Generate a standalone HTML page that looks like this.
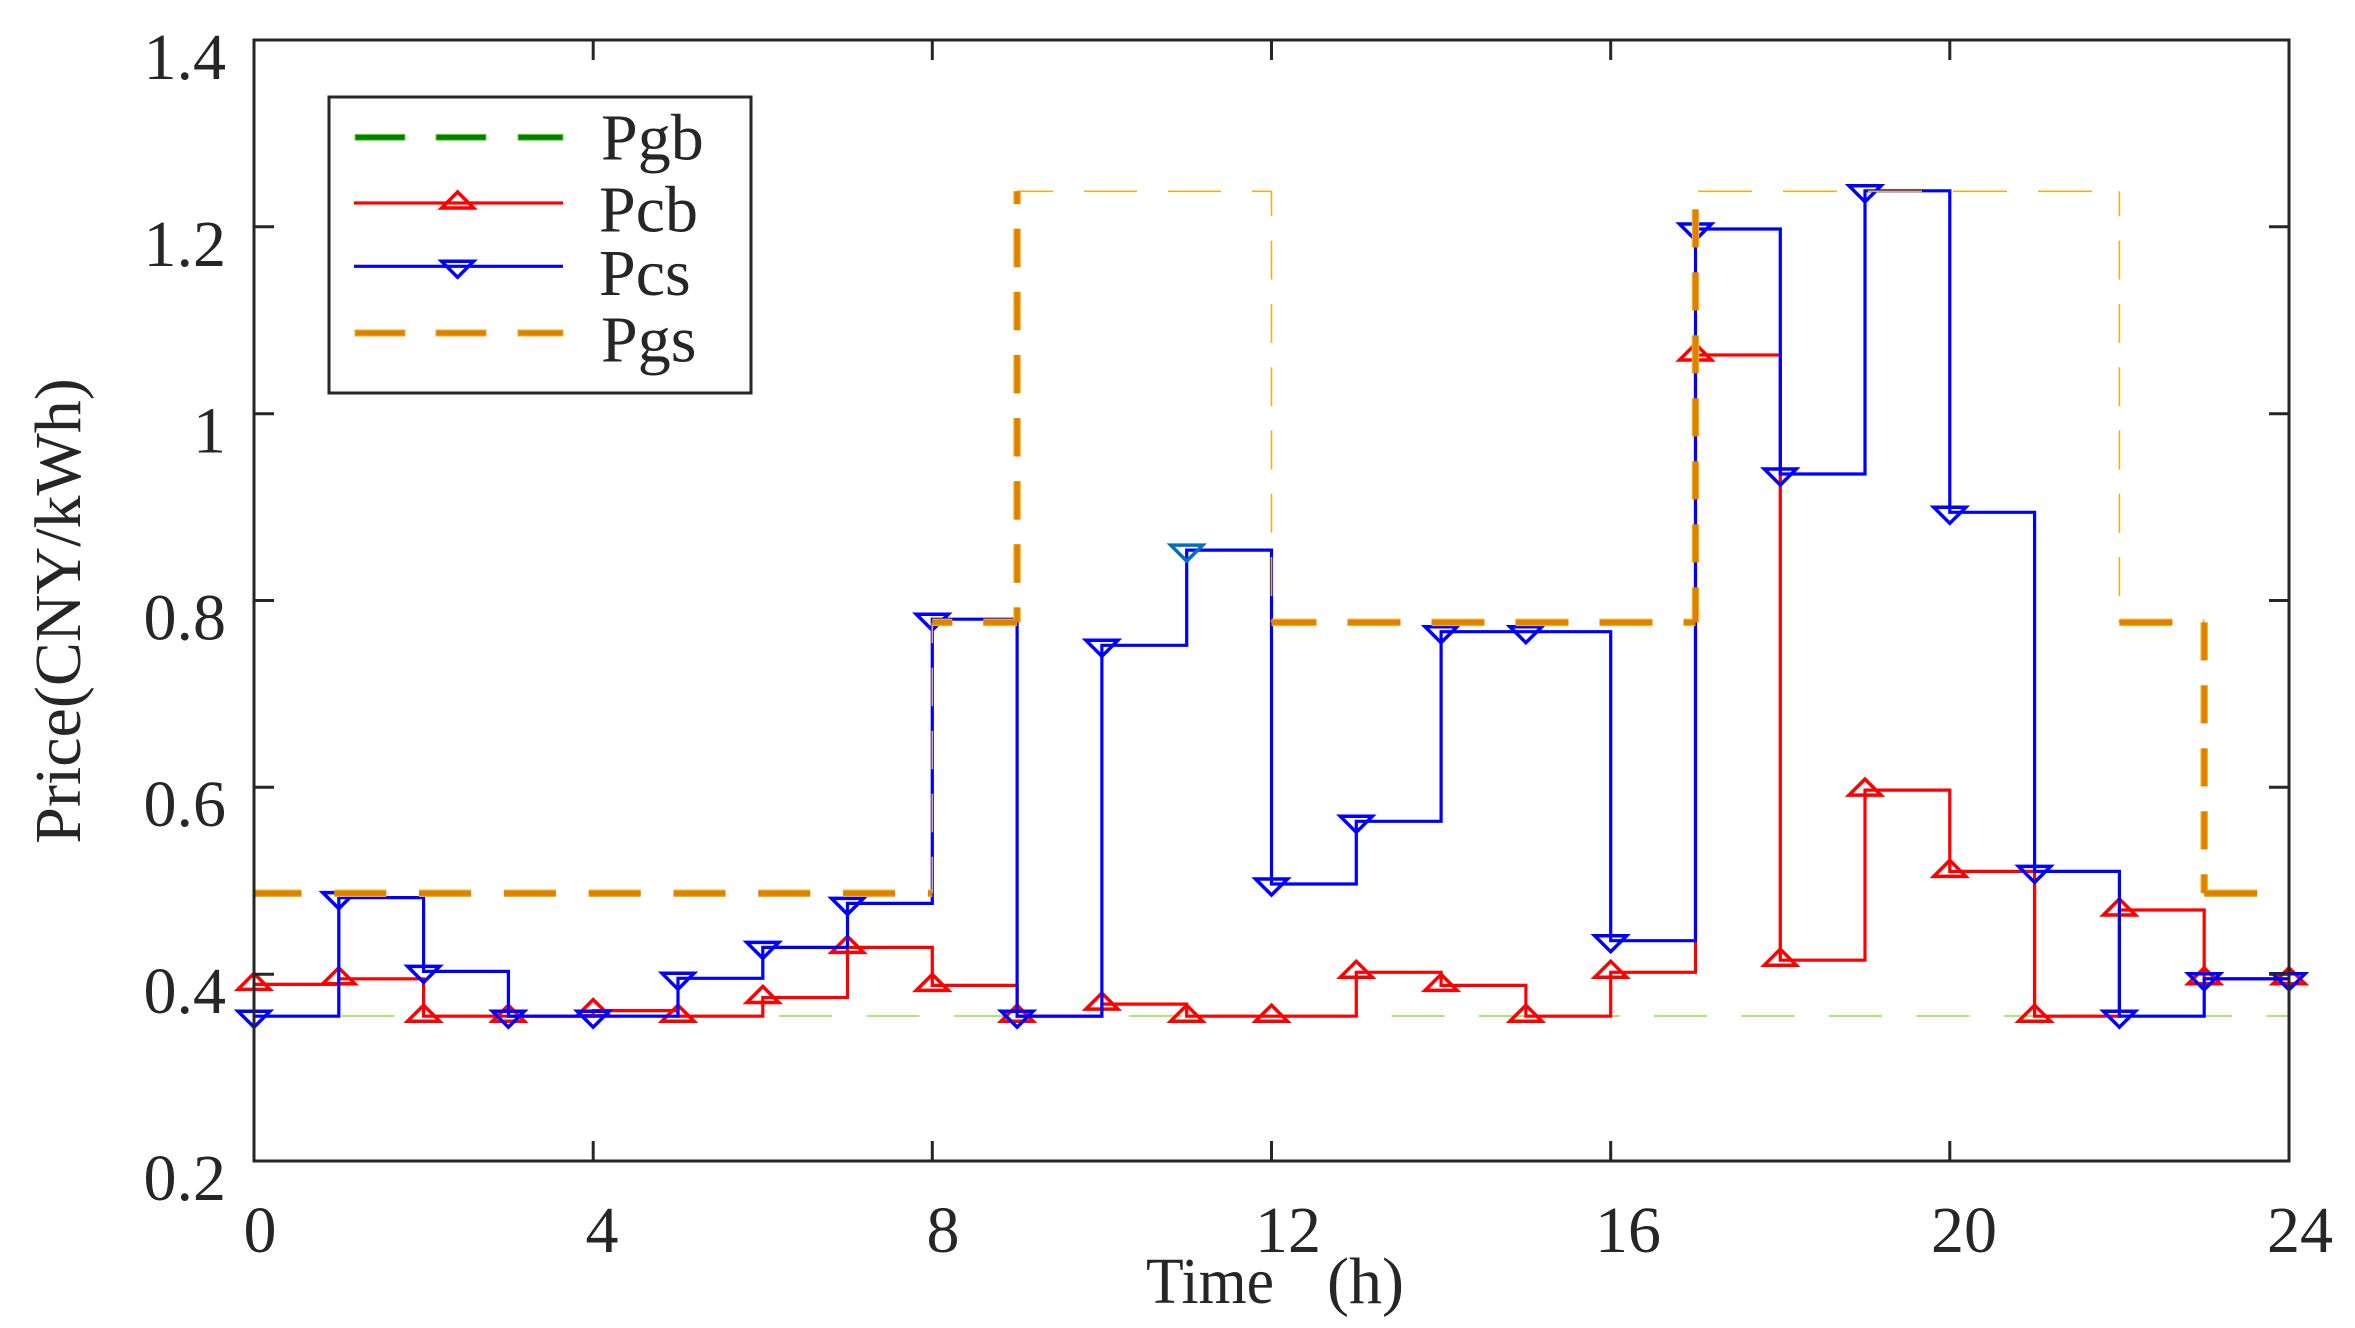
<!DOCTYPE html>
<html>
<head>
<meta charset="utf-8">
<style>
html,body{margin:0;padding:0;background:#fff;}
svg{display:block;}
text{font-family:"Liberation Serif","Times New Roman",serif;fill:#262626;}
</style>
</head>
<body>
<svg width="2355" height="1328" viewBox="0 0 2355 1328" xmlns="http://www.w3.org/2000/svg">
<rect x="0" y="0" width="2355" height="1328" fill="#fff"/>

<!-- Pgb (thin green dashed) -->
<line x1="254" y1="1016" x2="2289" y2="1016" stroke="#8FE23C" stroke-width="1.6" stroke-dasharray="53 34.5"/>

<!-- Pcb red -->
<path d="M254,984.4 H338.8 V978.8 H423.6 V1016.2 H508.4 V1016.2 H593.2 V1010.6 H678 V1016.2 H762.8 V997.5 H847.5 V947.4 H932.3 V985.4 H1017.1 V1016.2 H1101.9 V1004.1 H1186.7 V1016.2 H1271.5 V1016.2 H1356.3 V972.3 H1441.1 V985.4 H1525.9 V1016.2 H1610.7 V972.3 H1695.5 V355 H1780.3 V960.2 H1865 V790.1 H1949.8 V871.4 H2034.6 V1016.2 H2119.4 V910 H2204.2 V978.8 H2289" fill="none" stroke="#FF0000" stroke-width="3.2"/>
<g fill="none" stroke="#FF0000" stroke-width="3.5" stroke-linejoin="miter">
<polygon transform="translate(254,984.4)" points="0,-11 -16,5 16,5"/>
<polygon transform="translate(338.8,978.8)" points="0,-11 -16,5 16,5"/>
<polygon transform="translate(423.6,1016.2)" points="0,-11 -16,5 16,5"/>
<polygon transform="translate(508.4,1016.2)" points="0,-11 -16,5 16,5"/>
<polygon transform="translate(593.2,1010.6)" points="0,-11 -16,5 16,5"/>
<polygon transform="translate(678,1016.2)" points="0,-11 -16,5 16,5"/>
<polygon transform="translate(762.8,997.5)" points="0,-11 -16,5 16,5"/>
<polygon transform="translate(847.5,947.4)" points="0,-11 -16,5 16,5"/>
<polygon transform="translate(932.3,985.4)" points="0,-11 -16,5 16,5"/>
<polygon transform="translate(1017.1,1016.2)" points="0,-11 -16,5 16,5"/>
<polygon transform="translate(1101.9,1004.1)" points="0,-11 -16,5 16,5"/>
<polygon transform="translate(1186.7,1016.2)" points="0,-11 -16,5 16,5"/>
<polygon transform="translate(1271.5,1016.2)" points="0,-11 -16,5 16,5"/>
<polygon transform="translate(1356.3,972.3)" points="0,-11 -16,5 16,5"/>
<polygon transform="translate(1441.1,985.4)" points="0,-11 -16,5 16,5"/>
<polygon transform="translate(1525.9,1016.2)" points="0,-11 -16,5 16,5"/>
<polygon transform="translate(1610.7,972.3)" points="0,-11 -16,5 16,5"/>
<polygon transform="translate(1695.5,355)" points="0,-11 -16,5 16,5"/>
<polygon transform="translate(1780.3,960.2)" points="0,-11 -16,5 16,5"/>
<polygon transform="translate(1865,790.1)" points="0,-11 -16,5 16,5"/>
<polygon transform="translate(1949.8,871.4)" points="0,-11 -16,5 16,5"/>
<polygon transform="translate(2034.6,1016.2)" points="0,-11 -16,5 16,5"/>
<polygon transform="translate(2119.4,910)" points="0,-11 -16,5 16,5"/>
<polygon transform="translate(2204.2,978.8)" points="0,-11 -16,5 16,5"/>
<polygon transform="translate(2289,978.8)" points="0,-11 -16,5 16,5"/>
</g>

<!-- Pcs blue -->
<path d="M254,1016.2 H338.8 V897.6 H423.6 V971.4 H508.4 V1016.2 H593.2 V1016.2 H678 V978.3 H762.8 V947.4 H847.5 V903.4 H932.3 V619.2 H1017.1 V1016.2 H1101.9 V645.3 H1186.7 V550.1 H1271.5 V884 H1356.3 V821.3 H1441.1 V631.7 H1525.9 V631.7 H1610.7 V940.7 H1695.5 V229 H1780.3 V474 H1865 V190.8 H1949.8 V512.3 H2034.6 V871.4 H2119.4 V1016.2 H2204.2 V978.8 H2289" fill="none" stroke="#0000FF" stroke-width="3.2"/>
<g fill="none" stroke="#0000FF" stroke-width="3.5" stroke-linejoin="miter">
<polygon transform="translate(254,1016.2)" points="0,11 -16,-5 16,-5"/>
<polygon transform="translate(338.8,897.6)" points="0,11 -16,-5 16,-5"/>
<polygon transform="translate(423.6,971.4)" points="0,11 -16,-5 16,-5"/>
<polygon transform="translate(508.4,1016.2)" points="0,11 -16,-5 16,-5"/>
<polygon transform="translate(593.2,1016.2)" points="0,11 -16,-5 16,-5"/>
<polygon transform="translate(678,978.3)" points="0,11 -16,-5 16,-5"/>
<polygon transform="translate(762.8,947.4)" points="0,11 -16,-5 16,-5"/>
<polygon transform="translate(847.5,903.4)" points="0,11 -16,-5 16,-5"/>
<polygon transform="translate(932.3,619.2)" points="0,11 -16,-5 16,-5"/>
<polygon transform="translate(1017.1,1016.2)" points="0,11 -16,-5 16,-5"/>
<polygon transform="translate(1101.9,645.3)" points="0,11 -16,-5 16,-5"/>
<polygon transform="translate(1186.7,550.1)" points="0,11 -16,-5 16,-5" stroke="#0072BD"/>
<polygon transform="translate(1271.5,884)" points="0,11 -16,-5 16,-5"/>
<polygon transform="translate(1356.3,821.3)" points="0,11 -16,-5 16,-5"/>
<polygon transform="translate(1441.1,631.7)" points="0,11 -16,-5 16,-5"/>
<polygon transform="translate(1525.9,631.7)" points="0,11 -16,-5 16,-5"/>
<polygon transform="translate(1610.7,940.7)" points="0,11 -16,-5 16,-5"/>
<polygon transform="translate(1695.5,229)" points="0,11 -16,-5 16,-5"/>
<polygon transform="translate(1780.3,474)" points="0,11 -16,-5 16,-5"/>
<polygon transform="translate(1865,190.8)" points="0,11 -16,-5 16,-5"/>
<polygon transform="translate(1949.8,512.3)" points="0,11 -16,-5 16,-5"/>
<polygon transform="translate(2034.6,871.4)" points="0,11 -16,-5 16,-5"/>
<polygon transform="translate(2119.4,1016.2)" points="0,11 -16,-5 16,-5"/>
<polygon transform="translate(2204.2,978.8)" points="0,11 -16,-5 16,-5"/>
<polygon transform="translate(2289,978.8)" points="0,11 -16,-5 16,-5"/>
</g>

<!-- Pgs thin segments -->
<g fill="none" stroke="#EDB120" stroke-width="1.6">
<line x1="932.3" y1="893.3" x2="932.3" y2="622.4" stroke-dasharray="38.5 24.5" stroke-dashoffset="2"/>
<line x1="1017.1" y1="191.3" x2="1271.5" y2="191.3" stroke-dasharray="53 31" stroke-dashoffset="17"/>
<line x1="1271.5" y1="191.3" x2="1271.5" y2="622.4" stroke-dasharray="39 24.3" stroke-dashoffset="14"/>
<line x1="1695.5" y1="191.3" x2="2119.4" y2="191.3" stroke-dasharray="54 31" stroke-dashoffset="82.5"/>
<line x1="2119.4" y1="191.3" x2="2119.4" y2="622.4" stroke-dasharray="39 24.3" stroke-dashoffset="14"/>
</g>
<!-- Pgs thick segments: outline -->
<g fill="none" stroke="#EDB120" stroke-width="7.5">
<line x1="254" y1="893.3" x2="932.3" y2="893.3" stroke-dasharray="52 32.8" stroke-dashoffset="4.5"/>
<line x1="932.3" y1="622.4" x2="1017.1" y2="622.4" stroke-dasharray="53 31" stroke-dashoffset="33"/>
<line x1="1017.1" y1="622.4" x2="1017.1" y2="191.3" stroke-dasharray="38.4 24.7" stroke-dashoffset="23.4"/>
<line x1="1271.5" y1="622.4" x2="1695.5" y2="622.4" stroke-dasharray="53 31" stroke-dashoffset="8"/>
<line x1="1695.5" y1="622.4" x2="1695.5" y2="191.3" stroke-dasharray="38 25" stroke-dashoffset="3"/>
<line x1="2119.4" y1="622.4" x2="2204.2" y2="622.4" stroke-dasharray="53 31" stroke-dashoffset="0"/>
<line x1="2204.2" y1="622.4" x2="2204.2" y2="893.3" stroke-dasharray="38 25" stroke-dashoffset="0"/>
<line x1="2204.2" y1="893.3" x2="2289" y2="893.3" stroke-dasharray="53 31" stroke-dashoffset="0"/>
</g>
<g fill="none" stroke="#E08000" stroke-width="5">
<line x1="254" y1="893.3" x2="932.3" y2="893.3" stroke-dasharray="52 32.8" stroke-dashoffset="4.5"/>
<line x1="932.3" y1="622.4" x2="1017.1" y2="622.4" stroke-dasharray="53 31" stroke-dashoffset="33"/>
<line x1="1017.1" y1="622.4" x2="1017.1" y2="191.3" stroke-dasharray="38.4 24.7" stroke-dashoffset="23.4"/>
<line x1="1271.5" y1="622.4" x2="1695.5" y2="622.4" stroke-dasharray="53 31" stroke-dashoffset="8"/>
<line x1="1695.5" y1="622.4" x2="1695.5" y2="191.3" stroke-dasharray="38 25" stroke-dashoffset="3"/>
<line x1="2119.4" y1="622.4" x2="2204.2" y2="622.4" stroke-dasharray="53 31" stroke-dashoffset="0"/>
<line x1="2204.2" y1="622.4" x2="2204.2" y2="893.3" stroke-dasharray="38 25" stroke-dashoffset="0"/>
<line x1="2204.2" y1="893.3" x2="2289" y2="893.3" stroke-dasharray="53 31" stroke-dashoffset="0"/>
</g>

<!-- Axes frame and ticks -->
<g stroke="#262626" stroke-width="3" fill="none">
<rect x="254" y="40" width="2035" height="1121"/>
<!-- x ticks bottom/top -->
<path d="M593.2,1161 V1141 M932.3,1161 V1141 M1271.5,1161 V1141 M1610.7,1161 V1141 M1949.8,1161 V1141
         M593.2,40 V60 M932.3,40 V60 M1271.5,40 V60 M1610.7,40 V60 M1949.8,40 V60"/>
<!-- y ticks left/right -->
<path d="M254,974.2 H274 M254,787.3 H274 M254,600.5 H274 M254,413.7 H274 M254,226.8 H274
         M2289,974.2 H2269 M2289,787.3 H2269 M2289,600.5 H2269 M2289,413.7 H2269 M2289,226.8 H2269"/>
</g>

<!-- Tick labels -->
<g font-size="66">
<text x="260" y="1252" text-anchor="middle">0</text>
<text x="602" y="1252" text-anchor="middle">4</text>
<text x="943" y="1252" text-anchor="middle">8</text>
<text x="1288" y="1252" text-anchor="middle">12</text>
<text x="1628" y="1252" text-anchor="middle">16</text>
<text x="1964" y="1252" text-anchor="middle">20</text>
<text x="2300" y="1252" text-anchor="middle">24</text>

<text x="226" y="1200" text-anchor="end">0.2</text>
<text x="226" y="1013" text-anchor="end">0.4</text>
<text x="226" y="826" text-anchor="end">0.6</text>
<text x="226" y="639.5" text-anchor="end">0.8</text>
<text x="226" y="452.7" text-anchor="end">1</text>
<text x="226" y="265.8" text-anchor="end">1.2</text>
<text x="226" y="79" text-anchor="end">1.4</text>
</g>

<!-- Axis labels -->
<text x="1146" y="1303" font-size="66" textLength="128" lengthAdjust="spacingAndGlyphs">Time</text>
<text x="1327" y="1303" font-size="66" textLength="77" lengthAdjust="spacingAndGlyphs">(h)</text>
<text transform="translate(80,611) rotate(-90)" font-size="66" text-anchor="middle">Price(CNY/kWh)</text>

<!-- Legend -->
<rect x="329" y="97" width="422" height="296" fill="#fff" stroke="#262626" stroke-width="3"/>
<g fill="#008000" stroke="#7FD93A" stroke-width="1">
<rect x="355" y="134.3" width="50" height="6"/>
<rect x="436" y="134.3" width="50" height="6"/>
<rect x="518" y="134.3" width="45" height="6"/>
</g>
<line x1="354" y1="203" x2="563" y2="203" stroke="#FF0000" stroke-width="3.2"/>
<polygon transform="translate(457.6,203)" points="0,-11 -16,5 16,5" fill="none" stroke="#FF0000" stroke-width="3.5"/>
<line x1="354" y1="266.3" x2="563" y2="266.3" stroke="#0000FF" stroke-width="3.2"/>
<polygon transform="translate(457.6,266.3)" points="0,11 -16,-5 16,-5" fill="none" stroke="#0000FF" stroke-width="3.5"/>
<g fill="#E08000" stroke="#EDB120" stroke-width="1">
<rect x="355" y="330" width="50" height="6"/>
<rect x="436" y="330" width="50" height="6"/>
<rect x="518" y="330" width="45" height="6"/>
</g>
<g font-size="66">
<text x="601" y="159.3">Pgb</text>
<text x="599" y="231.7">Pcb</text>
<text x="599" y="295">Pcs</text>
<text x="601" y="361.7">Pgs</text>
</g>
</svg>
</body>
</html>
